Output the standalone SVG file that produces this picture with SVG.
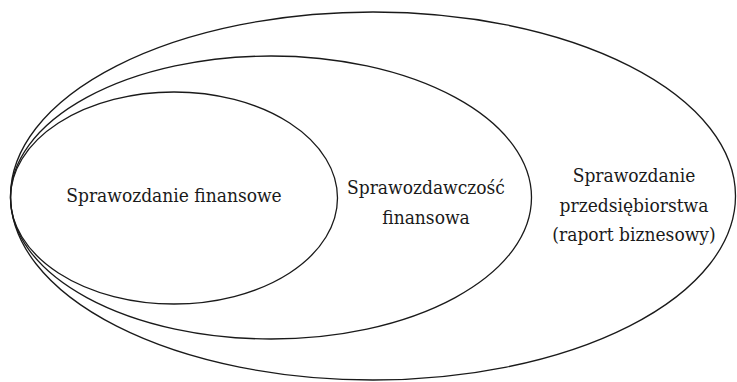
<svg xmlns="http://www.w3.org/2000/svg" width="737" height="382" viewBox="0 0 737 382">
  <style>
    .ring { fill: none; stroke: #1a1a1a; stroke-width: 1.3; }
    .lbl { font-family: "DejaVu Serif", serif; font-stretch: condensed; font-size: 19px; fill: #1a1a1a; text-anchor: middle; }
  </style>
  <rect width="737" height="382" fill="#ffffff"/>

  <!-- outermost set: business report -->
  <g id="sprawozdanie-przedsiebiorstwa">
    <ellipse class="ring" cx="373" cy="196" rx="362.5" ry="184"/>
    <text class="lbl" x="634" y="182">Sprawozdanie</text>
    <text class="lbl" x="634" y="212">przedsiębiorstwa</text>
    <text class="lbl" x="634" y="241">(raport biznesowy)</text>
  </g>

  <!-- middle set: financial reporting -->
  <g id="sprawozdawczosc-finansowa">
    <ellipse class="ring" cx="271" cy="197.5" rx="260.5" ry="141.5"/>
    <text class="lbl" x="426" y="194">Sprawozdawczość</text>
    <text class="lbl" x="426" y="224">finansowa</text>
  </g>

  <!-- innermost set: financial statement -->
  <g id="sprawozdanie-finansowe">
    <ellipse class="ring" cx="174" cy="198" rx="163.5" ry="106"/>
    <text class="lbl" x="174" y="202">Sprawozdanie finansowe</text>
  </g>

  <g id="connectors"></g>
</svg>
